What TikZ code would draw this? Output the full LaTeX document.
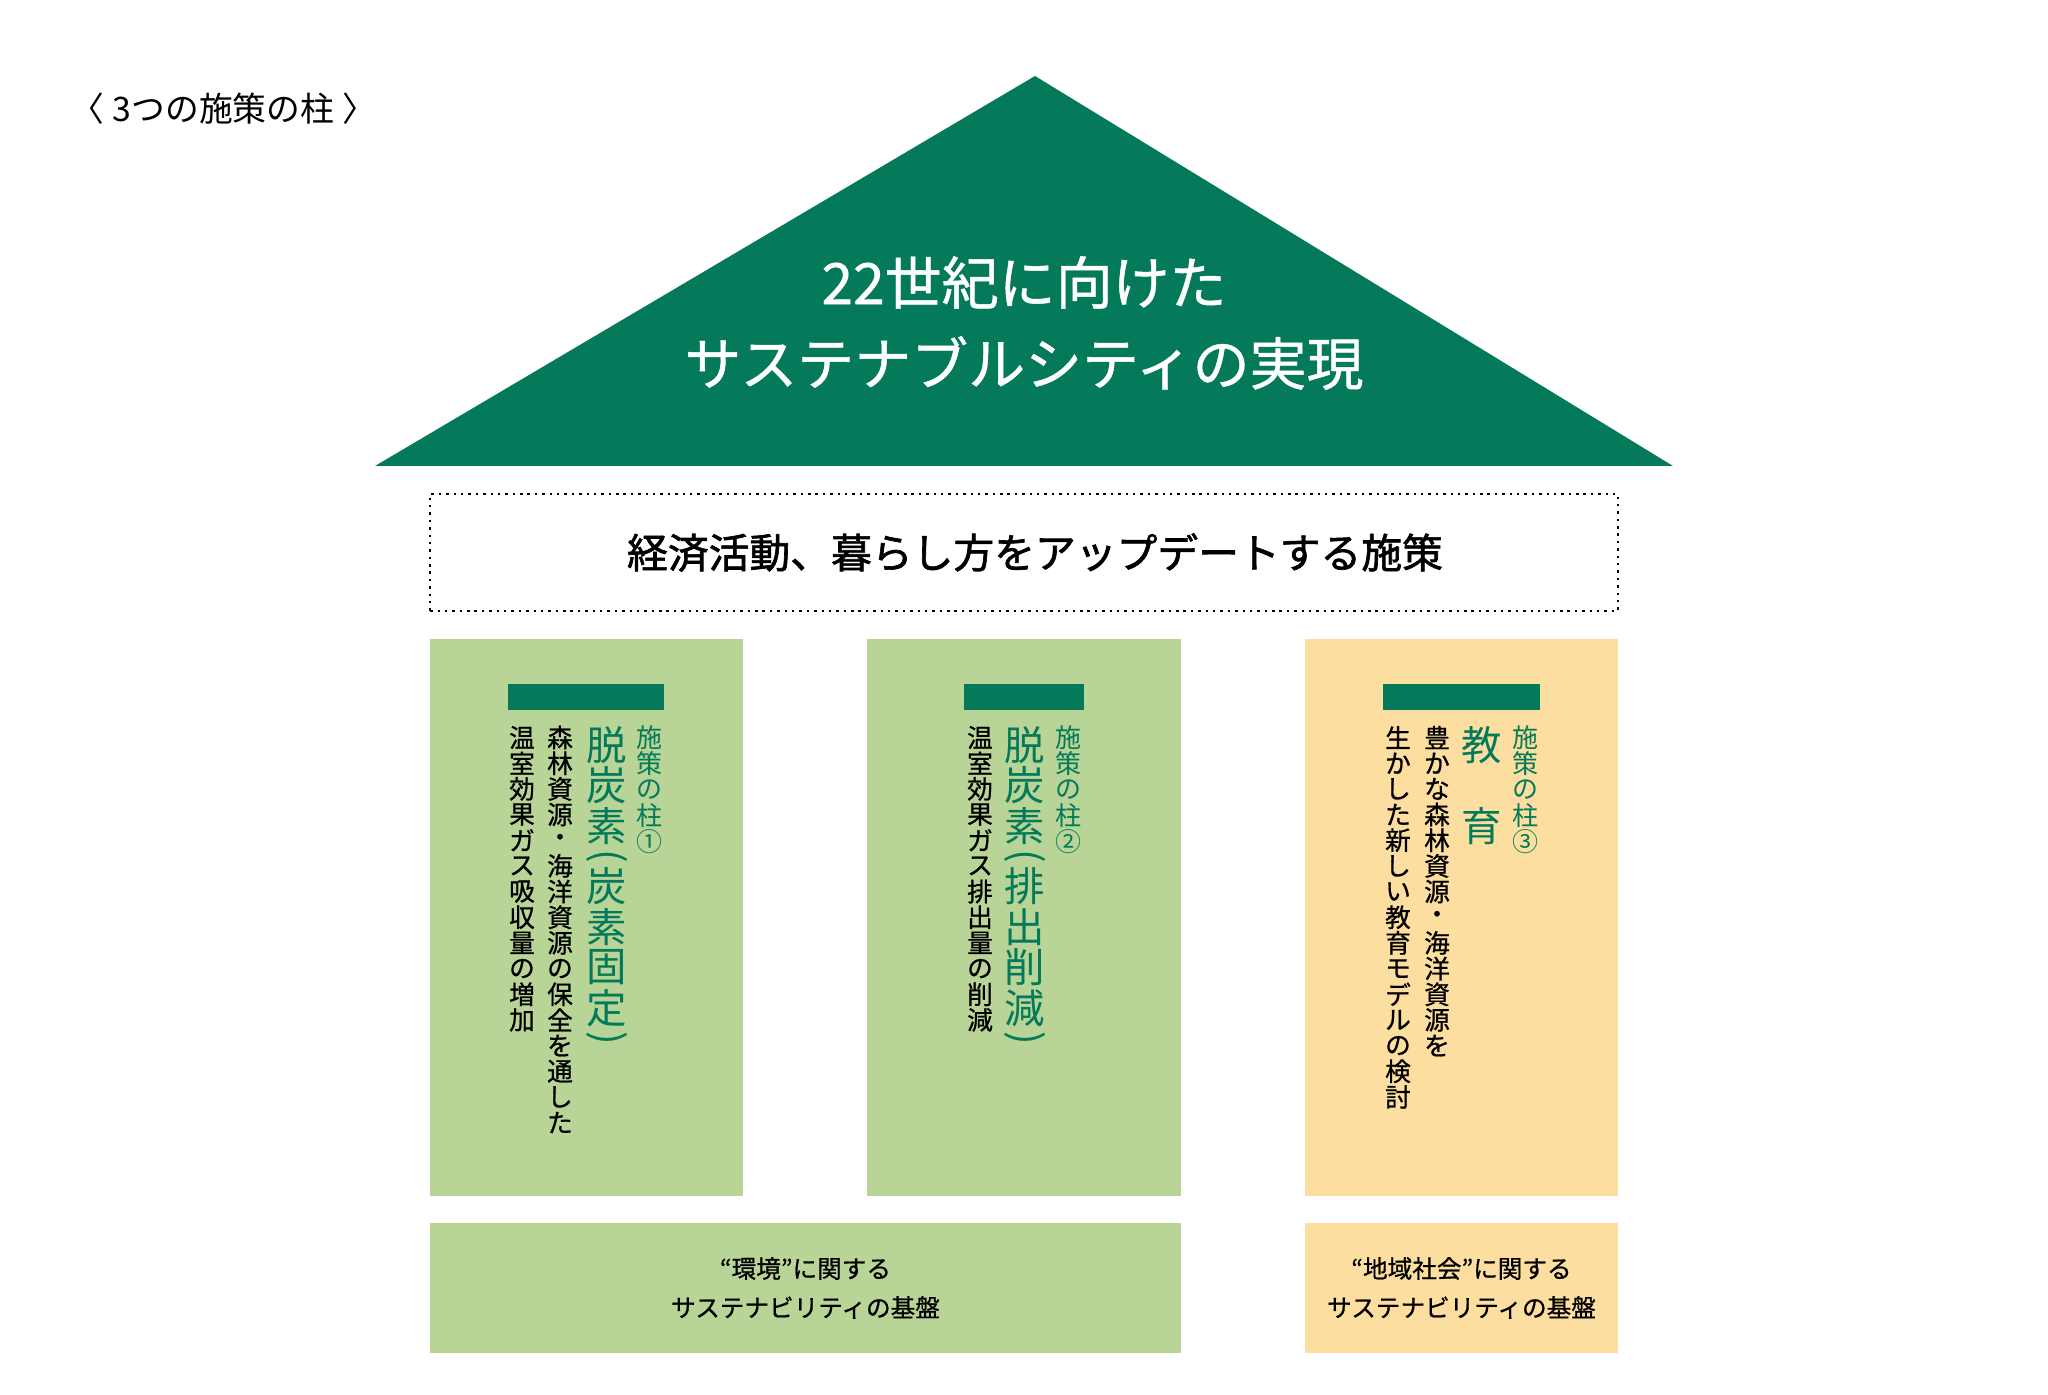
\documentclass[tikz,border=0pt]{standalone}
\usepackage{fontspec}
\usepackage{xcolor}
\usepackage{tikz}
\usetikzlibrary{positioning,calc}

\newfontfamily\jpfont{Noto Sans CJK JP}
\newfontfamily\jpmed[FakeBold=0.8]{Noto Sans CJK JP}
\newfontfamily\jpsemi[FakeBold=1.6]{Noto Sans CJK JP}
\definecolor{roofgreen}{RGB}{4,122,90}
\definecolor{leafgreen}{RGB}{185,212,151}
\definecolor{sandbeige}{RGB}{253,222,161}

% vertical (tate) text: one character per 1em cell
\makeatletter
\newcommand\tatecells[1]{\@tfor\tate@c:=#1\do{\hbox to 1em{\hss\vbox to 1em{\vss\hbox{\tate@c}\vss}\hss}}}
\newcommand\tatehalf[1]{\hbox to 1em{\hss\vbox to 0.5em{\vss\hbox{\rotatebox{-90}{#1}}\vss}\hss}}
\newcommand\tate[1]{\vbox{\offinterlineskip\tatecells{#1}}}
\makeatother

\begin{document}
\begin{tikzpicture}[
  x=0.01cm, y=-0.01cm,
  font=\jpfont,
  dotbox/.style={rectangle, draw, line width=0.7pt, dash pattern=on 0.7pt off 1.4pt,
                 minimum width=11.87cm, minimum height=1.17cm, inner sep=0pt,
                 font=\jpsemi\fontsize{11.6}{14}\selectfont},
  pillar/.style={rectangle, minimum width=3.13cm, minimum height=5.57cm, inner sep=0pt},
  bar/.style={rectangle, fill=roofgreen, minimum height=0.26cm, inner sep=0pt},
  base/.style={rectangle, minimum height=1.29cm, inner sep=0pt, align=center,
               font=\jpmed\fontsize{7}{11.1}\selectfont},
  tatehead/.style={anchor=north, inner sep=0pt, text=roofgreen,
                   font=\jpfont\fontsize{11.5}{11.5}\selectfont},
  tatenum/.style={anchor=north, inner sep=0pt, text=roofgreen,
                  font=\jpfont\fontsize{7.4}{7.4}\selectfont},
  tatebody/.style={anchor=north, inner sep=0pt,
                   font=\jpmed\fontsize{7.3}{7.3}\selectfont}
]
\useasboundingbox (0,0) rectangle (2048,1395);

% ---- Caption ----
\node[anchor=west, inner sep=0pt, font=\jpfont\fontsize{9.6}{11}\selectfont] (caption) at (70,109)
  {〈\hspace{0.25em}3つの施策の柱\hspace{0.25em}〉};

% ---- Roof ----
\coordinate (apex)  at (1035,76);
\coordinate (eaveL) at (375,466);
\coordinate (eaveR) at (1673,466);
\fill[roofgreen] (apex) -- (eaveR) -- (eaveL) -- cycle;
\node[align=center, text=white, font=\jpmed\fontsize{16.2}{23}\selectfont] (vision) at (1024,323)
  {22世紀に向けた\\サステナブルシティの実現};

% ---- Beam ----
\node[dotbox] (policy) at (1024,552.5) {\hspace{0.22cm}経済活動、暮らし方をアップデートする施策};

% ---- Pillars ----
\node[pillar, fill=leafgreen] (pil1) at (586.5,917.5) {};
\node[pillar, fill=leafgreen] (pil2) at (1024,917.5)  {};
\node[pillar, fill=sandbeige] (pil3) at (1461.5,917.5) {};

\node[bar, minimum width=1.56cm] (bar1) at (586,697)    {};
\node[bar, minimum width=1.20cm] (bar2) at (1024,697)   {};
\node[bar, minimum width=1.57cm] (bar3) at (1461.5,697) {};

% pillar 1
\node[tatenum]  (num1)   at (650,724) {\tate{施策の柱①}};
\node[tatehead] (head1)  at (607,724) {\vbox{\offinterlineskip\tatecells{脱炭素}\tatehalf{(}\tatecells{炭素固定}\tatehalf{)}}};
\node[tatebody] (body1a) at (560,724) {\tate{森林資源・海洋資源の保全を通した}};
\node[tatebody] (body1b) at (522,724) {\tate{温室効果ガス吸収量の増加}};

% pillar 2
\node[tatenum]  (num2)   at (1068,724) {\tate{施策の柱②}};
\node[tatehead] (head2)  at (1025,724) {\vbox{\offinterlineskip\tatecells{脱炭素}\tatehalf{(}\tatecells{排出削減}\tatehalf{)}}};
\node[tatebody] (body2)  at (980,724)  {\tate{温室効果ガス排出量の削減}};

% pillar 3
\node[tatenum]  (num3)   at (1525,724) {\tate{施策の柱③}};
\node[tatehead] (head3)  at (1482,724) {\tate{教　育}};
\node[tatebody] (body3a) at (1437,724) {\tate{豊かな森林資源・海洋資源を}};
\node[tatebody] (body3b) at (1398,724) {\tate{生かした新しい教育モデルの検討}};

% ---- Foundations ----
\node[base, fill=leafgreen, minimum width=7.51cm] (envbase) at (805.5,1288)
  {“環境”に関する\\サステナビリティの基盤};
\node[base, fill=sandbeige, minimum width=3.13cm] (locbase) at (1461.5,1288)
  {“地域社会”に関する\\サステナビリティの基盤};

\end{tikzpicture}
\end{document}
